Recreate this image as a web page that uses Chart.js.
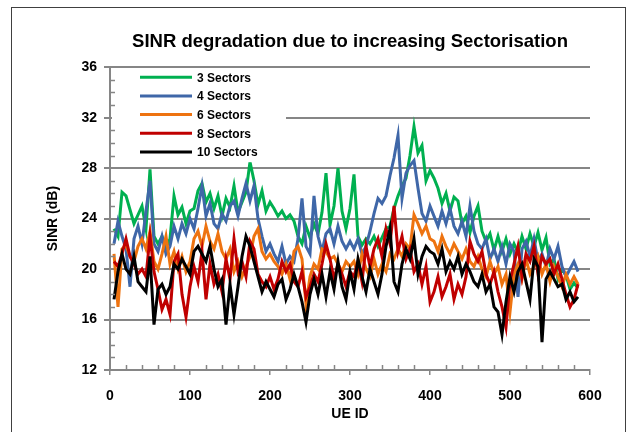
<!DOCTYPE html>
<html>
<head>
<meta charset="utf-8">
<script src="https://cdn.jsdelivr.net/npm/chart.js@4.4.1/dist/chart.umd.min.js"></script>
<style>
	html, body { margin: 0; padding: 0; background: #fff; }
	#wrap { width: 629px; height: 432px; position: relative; }
</style>
</head>
<body>
<div id="wrap"><canvas id="sinrChart"></canvas></div>
<script>
// UE ids sampled along the x axis
const ueIds = [
	5, 10, 15, 20, 25, 30, 35, 40, 45, 50,
	55, 60, 65, 70, 75, 80, 85, 90, 95, 100,
	105, 110, 115, 120, 125, 130, 135, 140, 145, 150,
	155, 160, 165, 170, 175, 180, 185, 190, 195, 200,
	205, 210, 215, 220, 225, 230, 235, 240, 245, 250,
	255, 260, 265, 270, 275, 280, 285, 290, 295, 300,
	305, 310, 315, 320, 325, 330, 335, 340, 345, 350,
	355, 360, 365, 370, 375, 380, 385, 390, 395, 400,
	405, 410, 415, 420, 425, 430, 435, 440, 445, 450,
	455, 460, 465, 470, 475, 480, 485, 490, 495, 500,
	505, 510, 515, 520, 525, 530, 535, 540, 545, 550,
	555, 560, 565, 570, 575, 580, 585
];

const seriesNames = ['3 Sectors', '4 Sectors', '6 Sectors', '8 Sectors', '10 Sectors'];
const seriesColors = ['#00B050', '#3F67A8', '#EE7310', '#C00000', '#000000'];

// SINR (dB)
const sinr3 = [
	23.2, 22.6, 26.1, 25.8, 24.7, 23.6, 24.3, 25.0, 23.2, 27.9,
	22.6, 22.0, 22.6, 21.7, 22.4, 25.8, 24.3, 24.9, 23.6, 24.6,
	24.8, 26.2, 26.8, 25.3, 26.0, 24.8, 25.8, 24.2, 25.6, 24.9,
	26.6, 24.5, 25.3, 26.1, 28.5, 27.0, 25.1, 26.2, 24.6, 25.3,
	24.8, 24.2, 24.6, 24.0, 24.3, 23.8, 22.6, 22.0, 23.4, 22.5,
	23.6, 22.8, 24.5, 27.6, 23.5, 25.0, 28.0, 24.6, 23.2, 24.8,
	27.5, 22.6, 21.9, 22.4, 22.0, 22.6, 21.8, 22.5, 23.2, 23.4,
	24.8, 25.8, 26.6, 27.2, 29.0, 31.3, 29.2, 29.8, 27.0, 27.8,
	27.2, 26.4, 25.2, 26.0, 24.6, 25.7, 25.4, 23.6, 24.2, 22.9,
	24.2, 25.0, 23.0, 22.2, 22.8, 21.5, 22.6, 21.4, 22.4, 21.2,
	22.0, 21.3, 22.6, 21.6, 22.8, 21.8, 22.9, 21.5, 22.5, 20.4,
	20.8, 19.2, 20.0, 19.5, 18.4, 18.9, 18.5
];
const sinr4 = [
	22.0, 23.8, 22.6, 21.6, 18.6, 22.4, 23.4, 22.0, 24.6, 27.0,
	22.0, 21.4, 22.6, 21.2, 21.8, 23.4, 22.4, 23.6, 22.8, 24.0,
	23.2, 24.8, 26.6, 24.2, 25.2, 23.6, 23.2, 24.4, 23.8, 25.0,
	25.4, 24.2, 25.6, 26.8, 25.4, 26.6, 24.0, 22.6, 21.4, 22.0,
	21.2, 20.6, 21.8, 20.4, 21.0, 20.6, 22.4, 25.6, 21.8, 21.2,
	25.8, 22.6, 21.4, 22.8, 23.2, 22.0, 23.4, 22.2, 21.6, 22.2,
	21.6, 22.4, 21.2, 21.8, 23.0, 24.4, 25.6, 25.2, 25.8, 27.4,
	28.8, 30.6, 25.6, 27.6, 28.2, 28.6, 26.4, 24.4, 23.8, 25.0,
	24.2, 23.4, 24.6, 23.6, 24.8, 23.4, 22.8, 23.8, 22.6, 25.0,
	23.0, 22.0, 21.6, 22.4, 20.8, 21.6, 20.6, 21.8, 20.4, 22.0,
	21.4, 17.8, 21.6, 22.2, 21.0, 22.4, 20.6, 21.2, 20.2, 21.6,
	20.8, 21.8, 20.2, 19.4, 20.0, 20.6, 19.8
];
const sinr6 = [
	21.2, 17.0, 21.6, 21.9, 21.0, 20.6, 21.8, 22.4, 21.6, 23.0,
	20.6, 20.0, 21.2, 22.6, 20.4, 21.4, 20.0, 21.0, 19.8, 20.6,
	22.4, 23.0, 21.8, 23.4, 22.2, 21.6, 22.8, 21.4, 20.8, 21.6,
	19.8, 20.6, 19.4, 20.2, 21.0, 22.6, 23.2, 21.4, 20.8, 21.2,
	20.6, 20.2, 19.6, 20.4, 19.2, 21.4, 21.8, 20.8, 17.2, 19.4,
	20.4, 20.0, 21.6, 21.4, 20.8, 21.0, 20.4, 19.8, 20.6, 20.2,
	20.6, 19.6, 21.2, 20.0, 19.4, 20.8, 19.6, 20.4, 19.8, 21.2,
	20.8, 21.6, 21.0, 22.0, 21.6, 24.3, 23.6, 22.8, 23.4, 22.4,
	22.2, 21.4, 22.6, 21.8, 21.2, 22.0, 21.4, 20.8, 21.6, 20.6,
	20.2, 21.0, 20.0, 19.4, 20.6, 19.6, 20.2, 18.8, 19.6, 16.6,
	19.6, 20.4, 19.2, 20.8, 19.6, 20.2, 21.0, 19.6, 20.4, 19.0,
	20.2, 19.4, 18.6, 19.6, 18.8, 19.4, 18.8
];
const sinr8 = [
	20.6, 20.2, 21.2, 22.4, 21.0, 20.4, 19.6, 20.0, 19.4, 22.6,
	19.8, 18.4, 16.8, 17.6, 16.4, 20.6, 21.2, 18.0, 16.2, 18.6,
	20.2, 19.0, 21.4, 17.6, 20.4, 18.8, 19.6, 18.2, 20.8, 19.2,
	22.4, 19.8, 20.6, 19.4, 22.2, 21.6, 19.6, 19.0, 18.6, 19.4,
	18.4, 19.2, 20.6, 19.8, 20.4, 19.0, 18.6, 19.8, 17.8, 18.6,
	19.6, 19.0, 20.4, 22.0, 20.8, 19.2, 20.4, 19.6, 18.6, 19.8,
	19.4, 20.6, 19.0, 21.8, 20.2, 21.6, 22.4, 21.0, 23.2, 22.0,
	25.0, 21.4, 22.6, 20.8, 21.6, 19.8, 20.4, 18.8, 20.2, 17.4,
	18.2, 19.4, 17.8, 18.6, 19.6, 17.6, 18.8, 18.0, 19.4, 22.2,
	21.2, 20.6, 21.4, 19.6, 18.8, 19.8, 18.2, 17.0, 15.4, 19.0,
	20.4, 21.8, 19.4, 21.2, 20.6, 21.8, 19.6, 21.0, 20.4, 20.8,
	19.6, 20.4, 19.2, 18.0, 17.0, 17.6, 18.8
];
const sinr10 = [
	17.6, 19.8, 21.2, 20.0, 19.6, 21.0, 19.0, 18.6, 18.2, 21.0,
	15.6, 18.4, 18.8, 18.0, 18.6, 20.4, 20.0, 20.8, 20.2, 19.6,
	21.4, 21.8, 21.2, 20.6, 21.8, 20.0, 18.6, 19.2, 15.6, 18.8,
	16.4, 18.6, 21.0, 22.6, 21.8, 20.6, 19.4, 18.2, 19.0, 18.4,
	17.8, 18.8, 19.2, 17.6, 18.4, 19.6, 18.6, 17.4, 15.8, 18.0,
	19.2, 18.0, 19.6, 17.8, 19.8, 18.4, 20.6, 18.6, 17.6, 19.8,
	18.4, 20.8, 19.4, 18.2, 20.0, 19.0, 18.0, 19.6, 21.8, 23.2,
	19.0, 18.2, 20.4, 21.6, 20.8, 22.4, 19.6, 21.0, 21.8, 21.4,
	21.2, 20.4, 21.6, 19.8, 20.6, 20.0, 21.0, 19.6, 20.4, 19.8,
	19.0, 18.6, 19.6, 18.2, 18.8, 17.0, 16.6, 14.8, 17.4, 19.4,
	18.2, 19.8, 20.4, 19.0, 17.6, 20.8, 20.2, 14.2, 19.2, 19.8,
	19.2, 18.6, 18.8, 17.6, 18.2, 17.4, 17.8
];

const allSeries = [sinr3, sinr4, sinr6, sinr8, sinr10];
const FONT = "'Liberation Sans', Arial, sans-serif";
const GRID = '#868686';

// legend sits inside the plot, top-left, on a white box
const innerLegend = {
	id: 'innerLegend',
	afterDatasetsDraw(chart) {
		const ctx = chart.ctx, a = chart.chartArea;
		ctx.save();
		ctx.fillStyle = '#fff';
		ctx.fillRect(a.left + 2, a.top + 3, 174, 92);
		ctx.font = 'bold 12px ' + FONT;
		ctx.textBaseline = 'middle';
		chart.data.datasets.forEach(function(ds, i) {
			const y = a.top + 10 + i * 18.7;
			ctx.strokeStyle = ds.borderColor;
			ctx.lineWidth = 3;
			ctx.beginPath();
			ctx.moveTo(a.left + 30, y);
			ctx.lineTo(a.left + 82, y);
			ctx.stroke();
			ctx.fillStyle = '#000';
			ctx.fillText(ds.label, a.left + 87, y + 1);
		});
		ctx.restore();
	}
};

// minor tick marks inside the axes + outer frame
const minorTicks = {
	id: 'minorTicks',
	afterDraw(chart) {
		const ctx = chart.ctx, a = chart.chartArea;
		const xs = chart.scales.x, ys = chart.scales.y;
		ctx.save();
		ctx.strokeStyle = GRID;
		ctx.lineWidth = 1.5;
		ctx.beginPath();
		for (let v = 13; v < 36; v++) {
			if (v % 4 === 0) continue;
			const y = Math.round(ys.getPixelForValue(v)) + 0.5;
			ctx.moveTo(a.left, y);
			ctx.lineTo(a.left + 5, y);
		}
		for (let u = 20; u < 600; u += 20) {
			if (u % 100 === 0) continue;
			const x = Math.round(xs.getPixelForValue(u)) + 0.5;
			ctx.moveTo(x, a.bottom);
			ctx.lineTo(x, a.bottom - 5);
		}
		ctx.stroke();
		ctx.strokeStyle = '#404040';
		ctx.lineWidth = 1;
		ctx.strokeRect(11.5, 7.5, 614, 440);
		ctx.restore();
	}
};

function showSinrChart() {
	var ctx = document.getElementById('sinrChart').getContext('2d');
	var datasets = allSeries.map(function(vals, i) {
		return {
			label: seriesNames[i],
			data: vals.map(function(v, k) { return { x: ueIds[k], y: v }; }),
			borderColor: seriesColors[i],
			backgroundColor: seriesColors[i],
			borderWidth: 3,
			pointRadius: 0,
			tension: 0,
			order: allSeries.length - i // black on top
		};
	});
	new Chart(ctx, {
		type: 'line',
		data: { datasets: datasets },
		plugins: [innerLegend, minorTicks],
		options: {
			responsive: true,
			maintainAspectRatio: false,
			animation: false,
			layout: { padding: { left: 0, right: 39, top: 0, bottom: 0 } },
			plugins: {
				legend: { display: false },
				tooltip: { enabled: false },
				title: {
					display: true,
					fullSize: false,
					text: 'SINR degradation due to increasing Sectorisation',
					color: '#000',
					font: { family: FONT, size: 18.5, weight: 'bold' },
					padding: { top: 31, bottom: 14 }
				}
			},
			scales: {
				x: {
					type: 'linear',
					min: 0,
					max: 600,
					afterFit: function(s) { s.height = 62; },
					ticks: { stepSize: 100, color: '#000', padding: 13, maxRotation: 0,
						font: { family: FONT, size: 14, weight: 'bold' } },
					grid: { drawOnChartArea: false, drawTicks: true, tickLength: 5, color: GRID, lineWidth: 1.5 },
					border: { color: GRID, width: 2 },
					title: { display: true, text: 'UE ID', color: '#000', padding: { top: 0, bottom: 9 },
						font: { family: FONT, size: 14, weight: 'bold' } }
				},
				y: {
					min: 12,
					max: 36,
					afterFit: function(s) { s.width = 110; },
					ticks: { stepSize: 4, color: '#000', padding: 7,
						font: { family: FONT, size: 14, weight: 'bold' } },
					grid: { color: GRID, lineWidth: 2, tickLength: 6 },
					border: { color: GRID, width: 2 },
					title: { display: true, text: 'SINR (dB)', color: '#000', padding: { top: 45, bottom: 0 },
						font: { family: FONT, size: 14, weight: 'bold' } }
				}
			}
		}
	});
}

showSinrChart();
</script>
</body>
</html>
